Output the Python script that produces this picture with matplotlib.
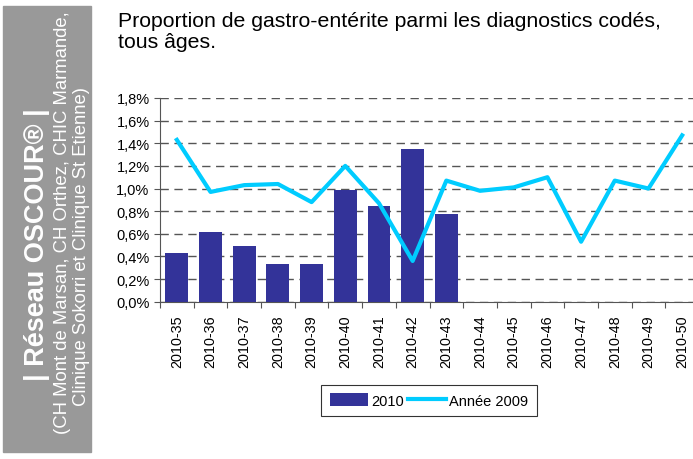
import matplotlib.pyplot as plt
from matplotlib.patches import Rectangle

# Data
weeks = ["2010-35", "2010-36", "2010-37", "2010-38", "2010-39", "2010-40", "2010-41", "2010-42",
         "2010-43", "2010-44", "2010-45", "2010-46", "2010-47", "2010-48", "2010-49", "2010-50"]
pct_2010 = [0.43, 0.62, 0.49, 0.33, 0.33, 0.99, 0.85, 1.35, 0.775]
pct_2009 = [1.43, 0.97, 1.03, 1.04, 0.88, 1.20, 0.87, 0.36,
            1.07, 0.98, 1.01, 1.10, 0.53, 1.07, 1.00, 1.47]
yticks = [0.0, 0.2, 0.4, 0.6, 0.8, 1.0, 1.2, 1.4, 1.6, 1.8]

fig = plt.figure(figsize=(6.93, 4.60), dpi=100)
plt.rcParams['font.family'] = ['Liberation Sans', 'DejaVu Sans']

# Grey side panel
fig.patches.append(Rectangle((3 / 693, 1 - 453 / 460), 88 / 693, 446 / 460,
                             transform=fig.transFigure, color="#999999", zorder=0))
fig.text(37 / 693, 1 - 244.5 / 460, "| Réseau OSCOUR® |", rotation=90, color="white",
         fontsize=19.5, fontweight="bold", ha="center", va="center")
fig.text(63 / 693, 1 - 223 / 460, "(CH Mont de Marsan, CH Orthez, CHIC Marmande,",
         rotation=90, color="white", fontsize=13.3, ha="center", va="center")
fig.text(82 / 693, 1 - 246 / 460, "Clinique Sokorri et Clinique St Etienne)",
         rotation=90, color="white", fontsize=13.3, ha="center", va="center")

# Title
fig.text(118 / 693, 1 - 12 / 460, "Proportion de gastro-entérite parmi les diagnostics codés,\ntous âges.",
         fontsize=15.3, ha="left", va="top", linespacing=1.1)

ax = fig.add_axes([160 / 693, 1 - 302.7 / 460, 539 / 693, 203.7 / 460])
x = list(range(len(weeks)))
ax.bar(x[:len(pct_2010)], pct_2010, width=0.68, color="#333399", label="2010", zorder=3)
ax.plot(x, pct_2009, color="#00CCFF", linewidth=3, label="Année 2009", zorder=4)

ax.set_xlim(-0.5, len(weeks) - 0.5)
ax.set_ylim(0, 1.8)
ax.set_yticks(yticks)
ax.set_yticklabels([f"{v:.1f}%".replace(".", ",") for v in yticks], fontsize=10.5)
ax.set_xticks([i - 0.5 for i in x] + [len(weeks) - 0.5])
ax.set_xticklabels([])
ax.set_xticks(x, minor=True)
ax.set_xticklabels(weeks, minor=True, rotation=90, fontsize=10.4)
ax.tick_params(axis="x", which="minor", length=0, pad=9)
ax.tick_params(axis="x", which="major", length=4, direction="out", color="#555555")
ax.tick_params(axis="y", length=4, direction="out", color="#555555")
ax.yaxis.grid(True, linestyle=(0, (6, 4)), color="#555555", linewidth=1, zorder=0)
ax.set_axisbelow(True)
for side in ["top", "right"]:
    ax.spines[side].set_visible(False)
ax.spines["left"].set_color("#555555")
ax.spines["bottom"].set_color("#555555")

handles, labels = ax.get_legend_handles_labels()
leg = fig.legend(handles[::-1], labels[::-1], loc="center", bbox_to_anchor=(429 / 693, 1 - 401.5 / 460),
                 ncol=2, fontsize=10.5, frameon=True, fancybox=False, edgecolor="black",
                 handlelength=2.6, handleheight=0.9, handletextpad=0.2, columnspacing=0.3,
                 borderpad=0.6, borderaxespad=0)
leg.get_frame().set_linewidth(0.8)

fig.savefig("out.png", dpi=100)
